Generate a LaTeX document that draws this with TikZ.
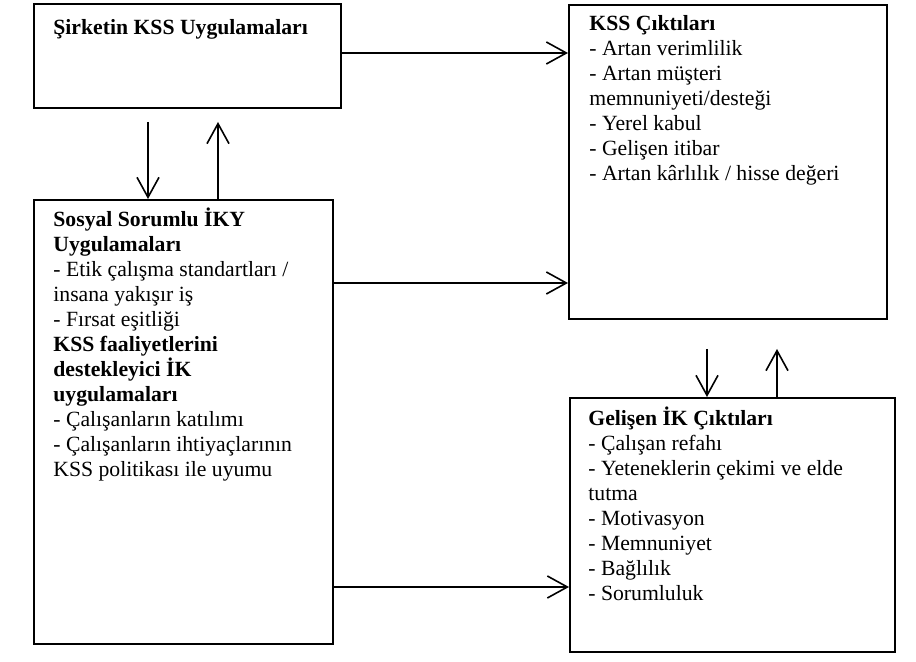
\documentclass[tikz,border=0pt]{standalone}
\usepackage{fontspec}
\setmainfont{Liberation Serif}
\usetikzlibrary{arrows.meta,calc}

\begin{document}
\begin{tikzpicture}[
    x=0.5pt, y=-0.5pt,
    box/.style={draw, line width=1pt, anchor=north west, inner sep=0pt},
    txt/.style={anchor=north west, inner sep=0pt, align=left,
      font=\fontsize{10.85}{12.5}\selectfont,
      execute at begin node=\rule{0pt}{10pt}},
    arrow/.style={-{Straight Barb[length=10pt,width=11pt]}, line width=.8pt}
  ]
    \fill[white] (0,0) rectangle (916,662);
    \useasboundingbox (0,0) rectangle (916,662);

    \node[box, minimum width=153.5pt, minimum height=52pt] (firm) at (33,3) {};
    \node[box, minimum width=149.5pt, minimum height=222pt] (hrm) at (33,199) {};
    \node[box, minimum width=159pt, minimum height=157pt] (kssout) at (568,4) {};
    \node[box, minimum width=162.5pt, minimum height=127pt] (hrout) at (569,397) {};

    \node[txt] (firmtxt) at (53,14) {\textbf{Şirketin KSS Uygulamaları}};
    \node[txt] (hrmtxt) at (53,208) {\textbf{Sosyal Sorumlu İKY}\\\textbf{Uygulamaları}\\
      - Etik çalışma standartları /\\insana yakışır iş\\- Fırsat eşitliği\\
      \textbf{KSS faaliyetlerini}\\\textbf{destekleyici İK}\\\textbf{uygulamaları}\\
      - Çalışanların katılımı\\- Çalışanların ihtiyaçlarının\\KSS politikası ile uyumu};
    \node[txt] (kssouttxt) at (589,15) {\textbf{KSS Çıktıları}\\- Artan verimlilik\\
      - Artan müşteri\\memnuniyeti/desteği\\- Yerel kabul\\- Gelişen itibar\\
      - Artan kârlılık / hisse değeri};
    \node[txt] (hrouttxt) at (588,407) {\textbf{Gelişen İK Çıktıları}\\- Çalışan refahı\\
      - Yeteneklerin çekimi ve elde\\tutma\\- Motivasyon\\- Memnuniyet\\- Bağlılık\\
      - Sorumluluk};

    \coordinate (firmright) at ($(firm.north east)+(0,50)$);
    \coordinate (hrmright1) at ($(hrm.north east)+(0,84)$);
    \coordinate (hrmright2) at ($(hrm.north east)+(0,388)$);
    \coordinate (firmdown) at ($(firm.south west)+(115,13)$);
    \coordinate (firmup) at ($(firm.south west)+(185,13)$);
    \coordinate (kssdown) at ($(kssout.south west)+(139,29)$);
    \coordinate (kssup) at ($(kssout.south west)+(209,29)$);

    \draw[arrow] (firmright) -- (firmright -| kssout.west);
    \draw[arrow] (hrmright1) -- (hrmright1 -| kssout.west);
    \draw[arrow] (hrmright2) -- (hrmright2 -| hrout.west);

    \draw[arrow] (firmdown) -- (firmdown |- hrm.north);
    \draw[arrow] (firmup |- hrm.north) -- (firmup);
    \draw[arrow] (kssdown) -- (kssdown |- hrout.north);
    \draw[arrow] (kssup |- hrout.north) -- (kssup);
  \end{tikzpicture}
\end{document}
